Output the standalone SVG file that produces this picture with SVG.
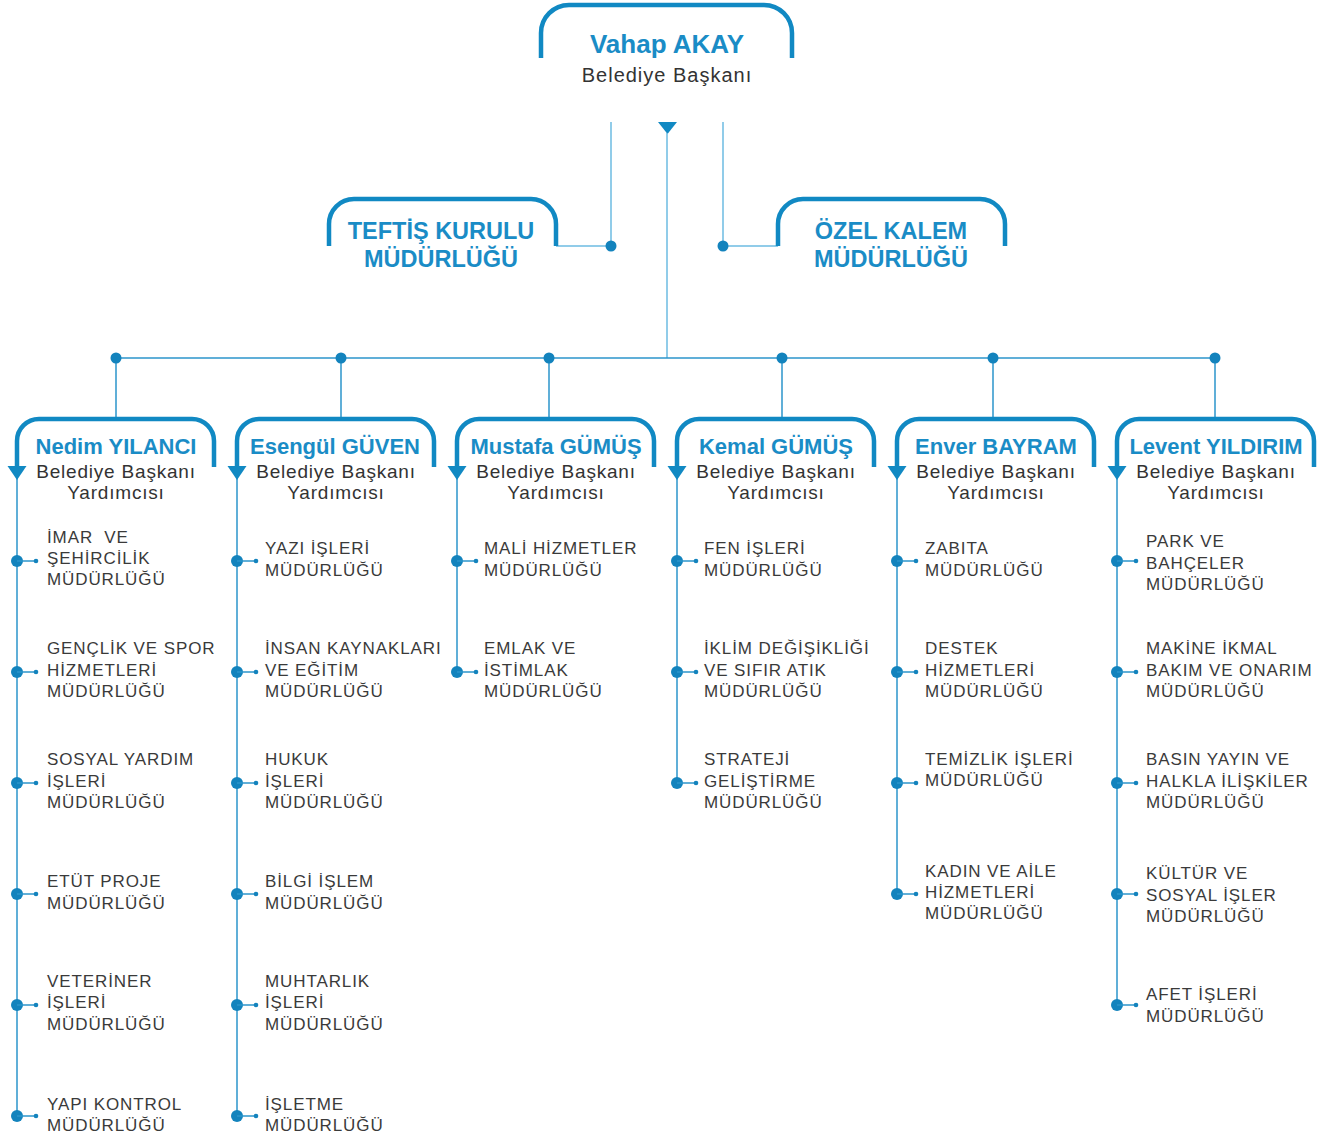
<svg xmlns="http://www.w3.org/2000/svg" width="1332" height="1140" viewBox="0 0 1332 1140">
<style>
.box{fill:none;stroke:#1189c3;stroke-width:4.5;stroke-linecap:butt}
.ln{fill:none;stroke:#2b95cb;stroke-width:1.5}
.lt{fill:none;stroke:#6dbbe2;stroke-width:1.5}
.dot{fill:#1383bd}
.tri{fill:#1189c3}
.name{font-family:"Liberation Sans",Arial,sans-serif;font-weight:bold;font-size:22px;fill:#1a8cc6;text-anchor:middle}
.big{font-size:26px}
.unit{font-family:"Liberation Sans",Arial,sans-serif;font-weight:bold;font-size:23.5px;fill:#1a8cc6;text-anchor:middle}
.sub{font-family:"Liberation Sans",Arial,sans-serif;font-size:19px;letter-spacing:0.8px;fill:#333;text-anchor:middle}
.item{font-family:"Liberation Sans",Arial,sans-serif;font-size:17px;letter-spacing:0.9px;fill:#3a3a3a}
</style>
<defs>
<g id="bul"><circle class="dot" cx="0" cy="0" r="6"/><line x1="0" y1="0" x2="19" y2="0" stroke="#2b95cb" stroke-width="1.5"/><circle class="dot" cx="19" cy="0" r="2.3"/></g>
</defs>

<g id="connectors">
<line class="lt" x1="611" y1="122" x2="611" y2="247"/>
<line class="lt" x1="723" y1="122" x2="723" y2="247"/>
<line class="lt" x1="556" y1="246" x2="611" y2="246"/>
<line class="lt" x1="723" y1="246" x2="778" y2="246"/>
<circle class="dot" cx="611" cy="246" r="5.5"/>
<circle class="dot" cx="723" cy="246" r="5.5"/>
<polygon class="tri" points="658,122 677,122 667.5,134"/>
<line class="lt" x1="667" y1="133" x2="667" y2="358"/>
<line class="ln" x1="116" y1="358" x2="1215" y2="358"/>
<line class="ln" x1="116" y1="358" x2="116" y2="419"/>
<line class="ln" x1="341" y1="358" x2="341" y2="419"/>
<line class="ln" x1="549" y1="358" x2="549" y2="419"/>
<line class="ln" x1="782" y1="358" x2="782" y2="419"/>
<line class="ln" x1="993" y1="358" x2="993" y2="419"/>
<line class="ln" x1="1215" y1="358" x2="1215" y2="419"/>
<circle class="dot" cx="116" cy="358" r="5.5"/>
<circle class="dot" cx="341" cy="358" r="5.5"/>
<circle class="dot" cx="549" cy="358" r="5.5"/>
<circle class="dot" cx="782" cy="358" r="5.5"/>
<circle class="dot" cx="993" cy="358" r="5.5"/>
<circle class="dot" cx="1215" cy="358" r="5.5"/>
<line class="ln" x1="17" y1="478" x2="17" y2="1116"/>
<line class="ln" x1="237" y1="478" x2="237" y2="1116"/>
<line class="ln" x1="457" y1="478" x2="457" y2="672"/>
<line class="ln" x1="677" y1="478" x2="677" y2="783"/>
<line class="ln" x1="897" y1="478" x2="897" y2="894"/>
<line class="ln" x1="1117" y1="478" x2="1117" y2="1005"/>
</g>

<g id="baskan">
<path class="box" d="M541,58 V33 A28,28 0 0 1 569,5 H764 A28,28 0 0 1 792,33 V58"/>
<text class="name big" x="667" y="53">Vahap AKAY</text>
<text class="sub" x="667" y="82" style="font-size:20px;letter-spacing:1px">Belediye Başkanı</text>
</g>

<g id="teftis">
<path class="box" d="M329,246 V224 A25,25 0 0 1 354,199 H531 A25,25 0 0 1 556,224 V246"/>
<text class="unit" x="441" y="239">TEFTİŞ KURULU</text>
<text class="unit" x="441" y="267">MÜDÜRLÜĞÜ</text>
</g>

<g id="ozelkalem">
<path class="box" d="M778,246 V224 A25,25 0 0 1 803,199 H980 A25,25 0 0 1 1005,224 V246"/>
<text class="unit" x="891" y="239">ÖZEL KALEM</text>
<text class="unit" x="891" y="267">MÜDÜRLÜĞÜ</text>
</g>

<g id="nedim">
<path class="box" d="M17,467 V441 A22,22 0 0 1 39,419 H192 A22,22 0 0 1 214,441 V467"/>
<polygon class="tri" points="7.5,466 26.5,466 17,480"/>
<text class="name" x="116" y="454">Nedim YILANCI</text>
<text class="sub" x="116" y="478">Belediye Başkanı</text>
<text class="sub" x="116" y="499">Yardımcısı</text>
</g>
<g id="esengul">
<path class="box" d="M237,467 V441 A22,22 0 0 1 259,419 H412 A22,22 0 0 1 434,441 V467"/>
<polygon class="tri" points="227.5,466 246.5,466 237,480"/>
<text class="name" x="335" y="454">Esengül GÜVEN</text>
<text class="sub" x="336" y="478">Belediye Başkanı</text>
<text class="sub" x="336" y="499">Yardımcısı</text>
</g>
<g id="mustafa">
<path class="box" d="M457,467 V441 A22,22 0 0 1 479,419 H632 A22,22 0 0 1 654,441 V467"/>
<polygon class="tri" points="447.5,466 466.5,466 457,480"/>
<text class="name" x="556" y="454">Mustafa GÜMÜŞ</text>
<text class="sub" x="556" y="478">Belediye Başkanı</text>
<text class="sub" x="556" y="499">Yardımcısı</text>
</g>
<g id="kemal">
<path class="box" d="M677,467 V441 A22,22 0 0 1 699,419 H852 A22,22 0 0 1 874,441 V467"/>
<polygon class="tri" points="667.5,466 686.5,466 677,480"/>
<text class="name" x="776" y="454">Kemal GÜMÜŞ</text>
<text class="sub" x="776" y="478">Belediye Başkanı</text>
<text class="sub" x="776" y="499">Yardımcısı</text>
</g>
<g id="enver">
<path class="box" d="M897,467 V441 A22,22 0 0 1 919,419 H1072 A22,22 0 0 1 1094,441 V467"/>
<polygon class="tri" points="887.5,466 906.5,466 897,480"/>
<text class="name" x="996" y="454">Enver BAYRAM</text>
<text class="sub" x="996" y="478">Belediye Başkanı</text>
<text class="sub" x="996" y="499">Yardımcısı</text>
</g>
<g id="levent">
<path class="box" d="M1117,467 V441 A22,22 0 0 1 1139,419 H1292 A22,22 0 0 1 1314,441 V467"/>
<polygon class="tri" points="1107.5,466 1126.5,466 1117,480"/>
<text class="name" x="1216" y="454">Levent YILDIRIM</text>
<text class="sub" x="1216" y="478">Belediye Başkanı</text>
<text class="sub" x="1216" y="499">Yardımcısı</text>
</g>

<g id="col1-items">
<g id="imar"><use href="#bul" x="17" y="561"/><text class="item" x="47" style="white-space:pre"><tspan x="47" y="543">İMAR  VE</tspan><tspan x="47" y="564">ŞEHİRCİLİK</tspan><tspan x="47" y="585">MÜDÜRLÜĞÜ</tspan></text></g>
<g id="genclik"><use href="#bul" x="17" y="672"/><text class="item"><tspan x="47" y="654">GENÇLİK VE SPOR</tspan><tspan x="47" y="676">HİZMETLERİ</tspan><tspan x="47" y="697">MÜDÜRLÜĞÜ</tspan></text></g>
<g id="sosyalyardim"><use href="#bul" x="17" y="783"/><text class="item"><tspan x="47" y="765">SOSYAL YARDIM</tspan><tspan x="47" y="787">İŞLERİ</tspan><tspan x="47" y="808">MÜDÜRLÜĞÜ</tspan></text></g>
<g id="etut"><use href="#bul" x="17" y="894"/><text class="item"><tspan x="47" y="887">ETÜT PROJE</tspan><tspan x="47" y="909">MÜDÜRLÜĞÜ</tspan></text></g>
<g id="veteriner"><use href="#bul" x="17" y="1005"/><text class="item"><tspan x="47" y="987">VETERİNER</tspan><tspan x="47" y="1008">İŞLERİ</tspan><tspan x="47" y="1030">MÜDÜRLÜĞÜ</tspan></text></g>
<g id="yapikontrol"><use href="#bul" x="17" y="1116"/><text class="item"><tspan x="47" y="1110">YAPI KONTROL</tspan><tspan x="47" y="1131">MÜDÜRLÜĞÜ</tspan></text></g>
</g>

<g id="col2-items">
<g id="yazi"><use href="#bul" x="237" y="561"/><text class="item"><tspan x="265" y="554">YAZI İŞLERİ</tspan><tspan x="265" y="576">MÜDÜRLÜĞÜ</tspan></text></g>
<g id="insan"><use href="#bul" x="237" y="672"/><text class="item"><tspan x="265" y="654">İNSAN KAYNAKLARI</tspan><tspan x="265" y="676">VE EĞİTİM</tspan><tspan x="265" y="697">MÜDÜRLÜĞÜ</tspan></text></g>
<g id="hukuk"><use href="#bul" x="237" y="783"/><text class="item"><tspan x="265" y="765">HUKUK</tspan><tspan x="265" y="787">İŞLERİ</tspan><tspan x="265" y="808">MÜDÜRLÜĞÜ</tspan></text></g>
<g id="bilgi"><use href="#bul" x="237" y="894"/><text class="item"><tspan x="265" y="887">BİLGİ İŞLEM</tspan><tspan x="265" y="909">MÜDÜRLÜĞÜ</tspan></text></g>
<g id="muhtarlik"><use href="#bul" x="237" y="1005"/><text class="item"><tspan x="265" y="987">MUHTARLIK</tspan><tspan x="265" y="1008">İŞLERİ</tspan><tspan x="265" y="1030">MÜDÜRLÜĞÜ</tspan></text></g>
<g id="isletme"><use href="#bul" x="237" y="1116"/><text class="item"><tspan x="265" y="1110">İŞLETME</tspan><tspan x="265" y="1131">MÜDÜRLÜĞÜ</tspan></text></g>
</g>

<g id="col3-items">
<g id="mali"><use href="#bul" x="457" y="561"/><text class="item"><tspan x="484" y="554">MALİ HİZMETLER</tspan><tspan x="484" y="576">MÜDÜRLÜĞÜ</tspan></text></g>
<g id="emlak"><use href="#bul" x="457" y="672"/><text class="item"><tspan x="484" y="654">EMLAK VE</tspan><tspan x="484" y="676">İSTİMLAK</tspan><tspan x="484" y="697">MÜDÜRLÜĞÜ</tspan></text></g>
</g>

<g id="col4-items">
<g id="fen"><use href="#bul" x="677" y="561"/><text class="item"><tspan x="704" y="554">FEN İŞLERİ</tspan><tspan x="704" y="576">MÜDÜRLÜĞÜ</tspan></text></g>
<g id="iklim"><use href="#bul" x="677" y="672"/><text class="item"><tspan x="704" y="654">İKLİM DEĞİŞİKLİĞİ</tspan><tspan x="704" y="676">VE SIFIR ATIK</tspan><tspan x="704" y="697">MÜDÜRLÜĞÜ</tspan></text></g>
<g id="strateji"><use href="#bul" x="677" y="783"/><text class="item"><tspan x="704" y="765">STRATEJİ</tspan><tspan x="704" y="787">GELİŞTİRME</tspan><tspan x="704" y="808">MÜDÜRLÜĞÜ</tspan></text></g>
</g>

<g id="col5-items">
<g id="zabita"><use href="#bul" x="897" y="561"/><text class="item"><tspan x="925" y="554">ZABITA</tspan><tspan x="925" y="576">MÜDÜRLÜĞÜ</tspan></text></g>
<g id="destek"><use href="#bul" x="897" y="672"/><text class="item"><tspan x="925" y="654">DESTEK</tspan><tspan x="925" y="676">HİZMETLERİ</tspan><tspan x="925" y="697">MÜDÜRLÜĞÜ</tspan></text></g>
<g id="temizlik"><use href="#bul" x="897" y="783"/><text class="item"><tspan x="925" y="765">TEMİZLİK İŞLERİ</tspan><tspan x="925" y="786">MÜDÜRLÜĞÜ</tspan></text></g>
<g id="kadin"><use href="#bul" x="897" y="894"/><text class="item"><tspan x="925" y="877">KADIN VE AİLE</tspan><tspan x="925" y="898">HİZMETLERİ</tspan><tspan x="925" y="919">MÜDÜRLÜĞÜ</tspan></text></g>
</g>

<g id="col6-items">
<g id="park"><use href="#bul" x="1117" y="561"/><text class="item"><tspan x="1146" y="547">PARK VE</tspan><tspan x="1146" y="569">BAHÇELER</tspan><tspan x="1146" y="590">MÜDÜRLÜĞÜ</tspan></text></g>
<g id="makine"><use href="#bul" x="1117" y="672"/><text class="item"><tspan x="1146" y="654">MAKİNE İKMAL</tspan><tspan x="1146" y="676">BAKIM VE ONARIM</tspan><tspan x="1146" y="697">MÜDÜRLÜĞÜ</tspan></text></g>
<g id="basin"><use href="#bul" x="1117" y="783"/><text class="item"><tspan x="1146" y="765">BASIN YAYIN VE</tspan><tspan x="1146" y="787">HALKLA İLİŞKİLER</tspan><tspan x="1146" y="808">MÜDÜRLÜĞÜ</tspan></text></g>
<g id="kultur"><use href="#bul" x="1117" y="894"/><text class="item"><tspan x="1146" y="879">KÜLTÜR VE</tspan><tspan x="1146" y="901">SOSYAL İŞLER</tspan><tspan x="1146" y="922">MÜDÜRLÜĞÜ</tspan></text></g>
<g id="afet"><use href="#bul" x="1117" y="1005"/><text class="item"><tspan x="1146" y="1000">AFET İŞLERİ</tspan><tspan x="1146" y="1022">MÜDÜRLÜĞÜ</tspan></text></g>
</g>
</svg>
